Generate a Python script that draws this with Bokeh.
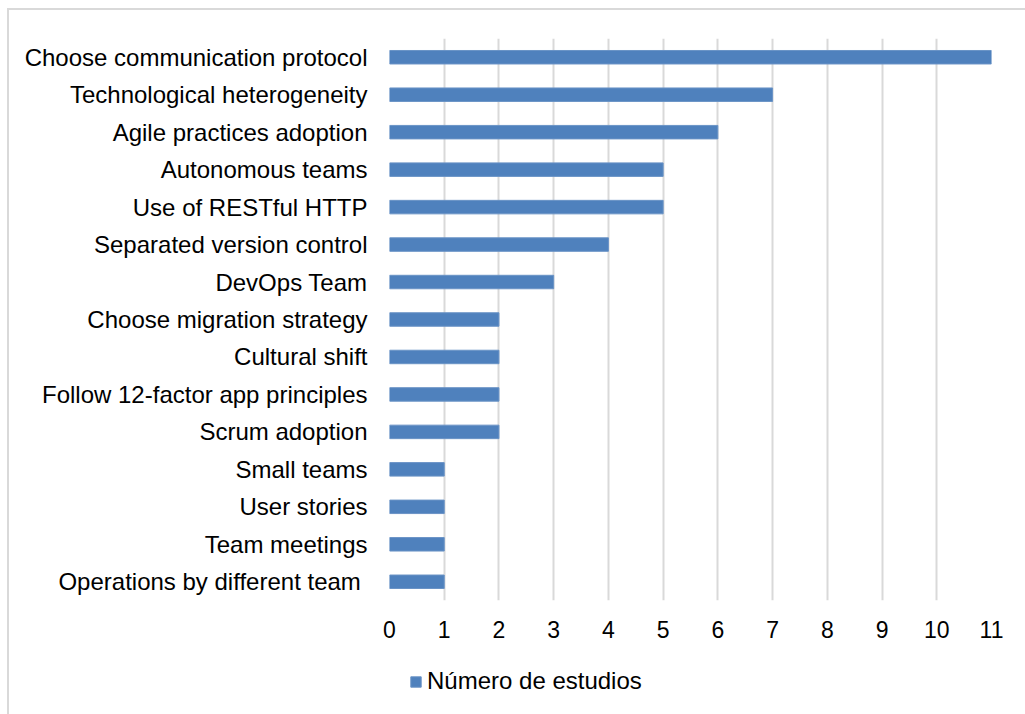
from bokeh.plotting import figure
from bokeh.layouts import column
from bokeh.models import ColumnDataSource, FactorRange, Range1d, Legend, LegendItem, FixedTicker
from bokeh.embed import file_html
from bokeh.resources import INLINE

categories = [
    "Choose communication protocol",
    "Technological heterogeneity",
    "Agile practices adoption",
    "Autonomous teams",
    "Use of RESTful HTTP",
    "Separated version control",
    "DevOps Team",
    "Choose migration strategy",
    "Cultural shift",
    "Follow 12-factor app principles",
    "Scrum adoption",
    "Small teams",
    "User stories",
    "Team meetings",
    "Operations by different team ",
]
values = [11, 7, 6, 5, 5, 4, 3, 2, 2, 2, 2, 1, 1, 1, 1]
x_ticks = list(range(0, 12))
series_name = "Número de estudios"

BAR_FILL = "#4F81BD"
BAR_LINE = "#6A93C6"
GRID = "#D9D9D9"

src = ColumnDataSource(dict(cat=categories, val=values))

p = figure(
    width=1025, height=644,
    y_range=FactorRange(factors=list(reversed(categories))),
    x_range=Range1d(0, 11),
    output_backend="svg", toolbar_location=None,
    min_border_left=389, min_border_right=34, min_border_top=38, min_border_bottom=44,
)
p.border_fill_color = None
p.styles = {"box-shadow": "inset 7px 8px 0 0 #FFFFFF, inset 9px 10px 0 0 #D9D9D9",
            "background-color": "#FFFFFF"}

r = p.hbar(y="cat", right="val", left=0, height=0.36, source=src,
           fill_color=BAR_FILL, line_color=BAR_LINE, line_width=1)

p.outline_line_color = None
p.xgrid.grid_line_color = GRID
p.xgrid.grid_line_width = 2
p.xgrid.ticker = FixedTicker(ticks=x_ticks)
p.ygrid.grid_line_color = None

p.xaxis.ticker = FixedTicker(ticks=x_ticks)
p.xaxis.axis_line_color = None
p.xaxis.major_tick_line_color = None
p.xaxis.minor_tick_line_color = None
p.xaxis.major_label_text_font = "Liberation Sans"
p.xaxis.major_label_text_font_size = "23px"
p.xaxis.major_label_text_color = "#000000"
p.xaxis.major_label_standoff = 14

p.yaxis.axis_line_color = None
p.yaxis.major_tick_line_color = None
p.yaxis.minor_tick_line_color = None
p.yaxis.major_label_text_font = "Liberation Sans"
p.yaxis.major_label_text_font_size = "24px"
p.yaxis.major_label_text_color = "#000000"
p.yaxis.major_label_standoff = 16

# legend strip below the chart (its frame is aligned with the main frame by the column).
# Its y range holds only the legend's own factor, so the bars themselves are not drawn here.
lg = figure(
    width=1025, height=70,
    y_range=FactorRange(factors=[series_name]),
    x_range=Range1d(0, 11),
    x_axis_type=None, y_axis_type=None,
    output_backend="svg", toolbar_location=None,
    min_border_left=0, min_border_right=0, min_border_top=0, min_border_bottom=0,
)
lg.border_fill_color = None
lg.background_fill_color = None
lg.outline_line_color = None
lg.grid.visible = False
lg.styles = {"box-shadow": "inset 7px 0 0 0 #FFFFFF, inset 9px 0 0 0 #D9D9D9",
             "background-color": "#FFFFFF"}
r2 = lg.hbar(y="cat", right="val", left=0, height=0.36, source=src,
             fill_color=BAR_FILL, line_color=BAR_LINE, line_width=1)

legend = Legend(items=[LegendItem(label=series_name, renderers=[r2])],
                location=(20, 19), orientation="horizontal",
                border_line_color=None, background_fill_alpha=0,
                padding=0, margin=0, glyph_width=13, glyph_height=13,
                label_text_font="Liberation Sans", label_text_font_size="24px",
                label_text_color="#000000", label_standoff=5)
lg.add_layout(legend, "center")

layout = column(p, lg, spacing=0)
open("out.html", "w").write(file_html(layout, INLINE))
